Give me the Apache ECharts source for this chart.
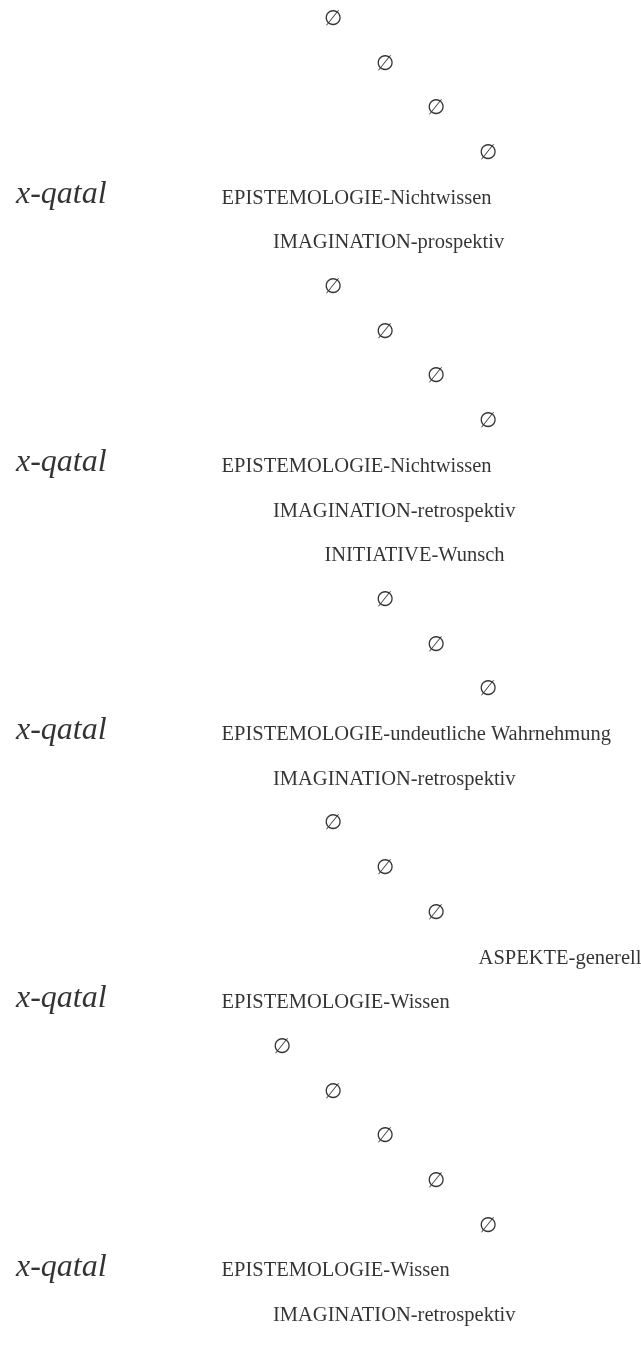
<!DOCTYPE html>
<html><head><meta charset="utf-8">
<script src="https://cdn.jsdelivr.net/npm/echarts@6/dist/echarts.min.js"></script>
<style>html,body{margin:0;padding:0;background:#fff}#c{width:641px;height:1345px}</style>
</head><body><div id="c"></div>
<script>
// One entry per row of the diagram (top to bottom)
const rowTexts = [
  '∅','∅','∅','∅',
  'EPISTEMOLOGIE-Nichtwissen','IMAGINATION-prospektiv',
  '∅','∅','∅','∅',
  'EPISTEMOLOGIE-Nichtwissen','IMAGINATION-retrospektiv','INITIATIVE-Wunsch',
  '∅','∅','∅',
  'EPISTEMOLOGIE-undeutliche Wahrnehmung','IMAGINATION-retrospektiv',
  '∅','∅','∅','ASPEKTE-generell',
  'EPISTEMOLOGIE-Wissen',
  '∅','∅','∅','∅','∅',
  'EPISTEMOLOGIE-Wissen','IMAGINATION-retrospektiv'
];
// indentation column of each row
const rowColumns = [
  6,7,8,9,
  4,5,
  6,7,8,9,
  4,5,6,
  7,8,9,
  4,5,
  6,7,8,9,
  4,
  5,6,7,8,9,
  4,5
];
// rows that carry the head word
const headRows = [4,10,16,22,28];
const headText = 'x-qatal';
const headColumn = 0;

const chart = echarts.init(document.getElementById('c'), null, {renderer:'canvas'});
const serif = '"Liberation Serif","Times New Roman",serif';
chart.setOption({
  animation:false,
  backgroundColor:'#ffffff',
  grid:{left:15.5, right:8.7, top:19.5, bottom:29.2},
  xAxis:{type:'value', min:0, max:12, show:false},
  yAxis:{type:'value', min:0, max:29, inverse:true, show:false},
  series:[
    {
      type:'scatter', silent:true, symbolSize:1,
      itemStyle:{color:'rgba(0,0,0,0)'},
      data:rowTexts.map((t,i)=>[rowColumns[i], i, t]),
      label:{show:true, position:'right', distance:0, color:'#000000',
        fontFamily:serif, fontSize:20.5, formatter:p=>p.data[2]}
    },
    {
      type:'scatter', silent:true, symbolSize:1,
      itemStyle:{color:'rgba(0,0,0,0)'},
      data:headRows.map(r=>[headColumn, r, headText]),
      label:{show:true, position:'right', distance:0, offset:[0,-4], color:'#000000',
        fontFamily:serif, fontStyle:'italic', fontSize:32, formatter:p=>p.data[2]}
    }
  ]
});
</script></body></html>
